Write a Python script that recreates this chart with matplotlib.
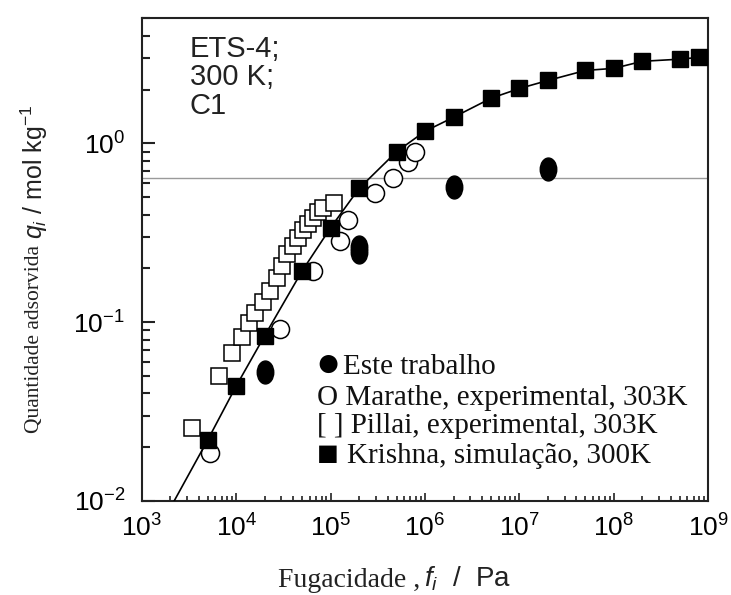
import matplotlib
matplotlib.use("Agg")
import matplotlib.pyplot as plt
from matplotlib.path import Path
from matplotlib.transforms import Affine2D
from matplotlib.ticker import NullFormatter, LogLocator

plt.rcParams['font.family'] = ['Liberation Sans', 'DejaVu Sans']
plt.rcParams['mathtext.fontset'] = 'custom'
plt.rcParams['mathtext.rm'] = 'Liberation Sans'
plt.rcParams['mathtext.it'] = 'Liberation Sans:italic'
plt.rcParams['axes.unicode_minus'] = False

# Krishna, simulação (300 K)
krishna_f = [5e3, 1e4, 2e4, 5e4, 1e5, 2e5, 5e5, 1e6, 2e6, 5e6, 1e7, 2e7, 5e7, 1e8, 2e8, 5e8, 8e8]
krishna_q = [0.022, 0.044, 0.084, 0.194, 0.338, 0.56, 0.90, 1.17, 1.40, 1.79, 2.03, 2.25, 2.56, 2.63, 2.88, 2.96, 3.03]

# curva ajustada (passa pelos pontos da simulação)
curve_f = [2.2e3] + krishna_f
curve_q = [0.010] + krishna_q

# Pillai, experimental (303 K)
pillai_f = [3.4e3, 6.5e3, 9.0e3, 1.15e4, 1.36e4, 1.58e4, 1.92e4, 2.28e4, 2.70e4, 3.05e4,
            3.45e4, 3.99e4, 4.51e4, 5.09e4, 5.75e4, 6.50e4, 7.35e4, 8.30e4, 1.08e5]
pillai_q = [0.0256, 0.050, 0.067, 0.083, 0.099, 0.113, 0.129, 0.150, 0.177, 0.207,
            0.242, 0.268, 0.297, 0.326, 0.356, 0.385, 0.411, 0.438, 0.467]

# Marathe, experimental (303 K)
marathe_f = [5.3e3, 2.9e4, 6.5e4, 1.26e5, 1.53e5, 2.95e5, 4.6e5, 6.6e5, 7.8e5]
marathe_q = [0.0186, 0.092, 0.194, 0.286, 0.371, 0.525, 0.637, 0.783, 0.90]

# Este trabalho
este_f = [2e4, 2e5, 2e5, 2e6, 2e7]
este_q = [0.053, 0.248, 0.262, 0.567, 0.724]

ref_q = 0.637

ellipse = Path.unit_circle().transformed(Affine2D().scale(0.72, 1.0))

fig = plt.figure(figsize=(7.31, 5.95), dpi=100)
ax = fig.add_axes([0.194, 0.158, 0.775, 0.812])

ax.axhline(ref_q, color='#9a9a9a', lw=1.0, zorder=1)

ax.plot(pillai_f, pillai_q, ls='none', marker='s', ms=11.5, mfc='white',
        mec='black', mew=1.1, zorder=2)
ax.plot(marathe_f, marathe_q, ls='none', marker='o', ms=13, mfc='white',
        mec='black', mew=1.1, zorder=3)
ax.plot(curve_f, curve_q, color='black', lw=1.2, zorder=4)
ax.plot(krishna_f, krishna_q, ls='none', marker='s', ms=12, mfc='black',
        mec='black', zorder=5)
ax.plot(este_f, este_q, ls='none', marker=ellipse, ms=16.5, mfc='black',
        mec='black', zorder=6)

ax.set_xscale('log')
ax.set_yscale('log')
ax.set_xlim(1e3, 1e9)
ax.set_ylim(1e-2, 5.04)

ax.xaxis.set_major_locator(LogLocator(base=10, numticks=10))
ax.xaxis.set_minor_locator(LogLocator(base=10, subs=range(2, 10), numticks=100))
ax.yaxis.set_minor_formatter(NullFormatter())
ax.xaxis.set_minor_formatter(NullFormatter())

ax.tick_params(axis='both', which='both', direction='in', labelsize=19, color='#222222')
ax.tick_params(axis='y', which='major', length=9, width=1.5, pad=12)
ax.tick_params(axis='y', which='minor', length=6, width=1.5)
ax.tick_params(axis='x', which='major', length=6, width=1.2, pad=10)
ax.tick_params(axis='x', which='minor', length=3.5, width=1.2)
for s in ax.spines.values():
    s.set_linewidth(1.5)
    s.set_color('#222222')

ax.text(0.085, 0.965, 'ETS-4;\n300 K;\nC1', transform=ax.transAxes, ha='left',
        va='top', fontsize=21, linespacing=1.02, color='#222222')

# legenda escrita à mão, fonte serifada
serif = ['Liberation Serif', 'DejaVu Serif', 'DejaVu Sans']
ax.text(0.307, 0.280, '\u25cf', transform=ax.transAxes, ha='left', va='center',
        fontsize=30, family=serif, color='black')
ax.text(0.355, 0.278, 'Este trabalho', transform=ax.transAxes, ha='left',
        va='center', fontsize=21, family=serif, color='#111111')
ax.text(0.309, 0.214, 'O Marathe, experimental, 303K', transform=ax.transAxes,
        ha='left', va='center', fontsize=21, family=serif, color='#111111')
ax.text(0.309, 0.156, '[ ] Pillai, experimental, 303K', transform=ax.transAxes,
        ha='left', va='center', fontsize=21, family=serif, color='#111111')
ax.text(0.309, 0.093, '\u25a0', transform=ax.transAxes, ha='left', va='center',
        fontsize=26, family=serif, color='black')
ax.text(0.362, 0.093, 'Krishna, simulação, 300K', transform=ax.transAxes,
        ha='left', va='center', fontsize=21, family=serif, color='#111111')

# rótulos dos eixos: parte serifada + parte sem serifa
fig.text(0.575, 0.025, 'Fugacidade ,', ha='right', va='center', fontsize=20,
         family=serif, color='#222222')
fig.text(0.580, 0.027, r'$f_i$  /  Pa', ha='left', va='center', fontsize=20,
         color='#222222')
fig.text(0.047, 0.43, 'Quantidade adsorvida', rotation=90, ha='center',
         va='center', fontsize=15.5, family=serif, color='#222222')
fig.text(0.047, 0.712, r'$q_i$ / mol kg$^{-1}$', rotation=90, ha='center',
         va='center', fontsize=18, color='#222222')

fig.savefig('out.png', dpi=100)
